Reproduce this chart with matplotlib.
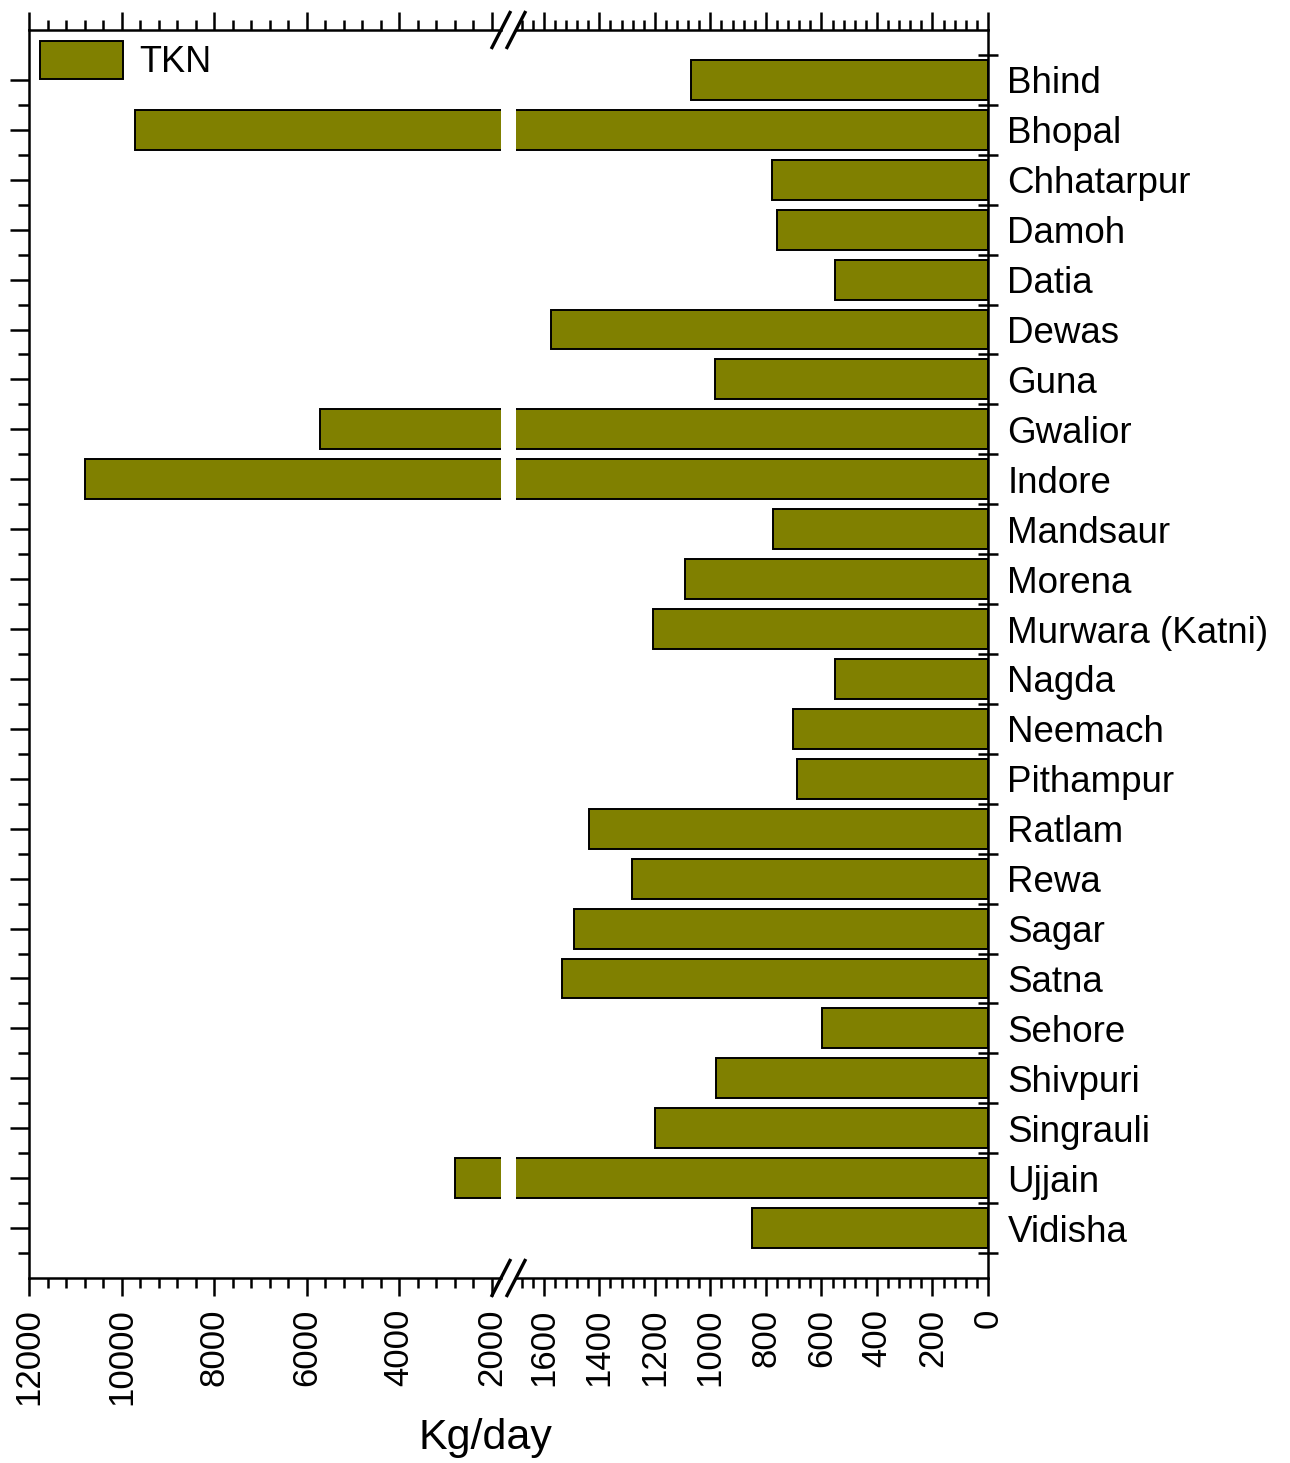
import numpy as np
import matplotlib
matplotlib.use('Agg')
import matplotlib.pyplot as plt
from matplotlib.ticker import MultipleLocator, FixedLocator

plt.rcParams['font.family'] = ['Liberation Sans', 'DejaVu Sans']

# TKN load per town (Kg/day)
towns = ['Bhind', 'Bhopal', 'Chhatarpur', 'Damoh', 'Datia', 'Dewas', 'Guna',
         'Gwalior', 'Indore', 'Mandsaur', 'Morena', 'Murwara (Katni)', 'Nagda',
         'Neemach', 'Pithampur', 'Ratlam', 'Rewa', 'Sagar', 'Satna', 'Sehore',
         'Shivpuri', 'Singrauli', 'Ujjain', 'Vidisha']
tkn = [1070, 9700, 778, 760, 550, 1575, 985,
       5720, 10790, 775, 1093, 1205, 550,
       702, 688, 1437, 1281, 1491, 1535, 597,
       981, 1198, 2800, 851]

bar_color = '#808000'
lw = 1.8

fig = plt.figure(figsize=(12.9, 14.63), dpi=100)
W, H = 1290, 1463
bottom = (H - 1278) / H
height = 1248 / H
ax1 = fig.add_axes([29 / W, bottom, 472 / W, height])
ax2 = fig.add_axes([516 / W, bottom, 472 / W, height])

pos = np.arange(len(towns))
for ax in (ax1, ax2):
    ax.barh(pos, tkn, height=0.8, color=bar_color, edgecolor='black',
            linewidth=1.4, label='TKN')
    ax.set_ylim(len(towns), -1)
    for s in ax.spines.values():
        s.set_linewidth(lw)
    ax.tick_params(axis='x', which='both', direction='out', top=True,
                   bottom=True, labeltop=False, width=lw, labelsize=25,
                   labelrotation=90, pad=9)
    ax.tick_params(axis='x', which='major', length=13)
    ax.tick_params(axis='x', which='minor', length=7)

# left part of broken axis
ax1.set_xlim(12000, 1800)
ax1.xaxis.set_major_locator(MultipleLocator(2000))
ax1.xaxis.set_minor_locator(MultipleLocator(400))
ax1.spines['right'].set_visible(False)
ax1.yaxis.set_major_locator(FixedLocator(pos))
ax1.yaxis.set_minor_locator(FixedLocator(pos + 0.5))
ax1.set_yticklabels([])
ax1.tick_params(axis='y', which='both', direction='out', width=lw,
                left=True, right=False)
ax1.tick_params(axis='y', which='major', length=14)
ax1.tick_params(axis='y', which='minor', length=8)

# right part of broken axis
ax2.set_xlim(1700, 0)
ax2.xaxis.set_major_locator(MultipleLocator(200))
ax2.xaxis.set_minor_locator(MultipleLocator(40))
ax2.xaxis.set_major_formatter(plt.FuncFormatter(lambda v, p: f'{v:.0f}'))
ax2.spines['left'].set_visible(False)
ax2.yaxis.tick_right()
ax2.set_yticks(pos)
ax2.set_yticklabels(towns, fontsize=26.5)
ax2.yaxis.set_minor_locator(FixedLocator(np.arange(-0.5, len(towns), 1.0)))
ax2.tick_params(axis='y', which='major', length=0, pad=14)
ax2.tick_params(axis='y', which='minor', direction='inout', length=14,
                width=lw, left=False, right=True)

# break marks
dx1, dy = 9 / 472, 17.5 / 1248
for ax, xc in ((ax1, 1.0), (ax2, 0.0)):
    for yc in (0.0, 1.0):
        ax.plot([xc - dx1, xc + dx1], [yc - dy, yc + dy], transform=ax.transAxes,
                color='black', linewidth=lw + 0.6, clip_on=False)

leg = ax1.legend(loc='upper left', frameon=False, fontsize=26,
                 handlelength=2.3, handleheight=1.25, handletextpad=0.45,
                 borderaxespad=0.0, borderpad=0.3)

fig.text(485 / W, 1 - 1438 / H, 'Kg/day', ha='center', va='center', fontsize=31)

fig.savefig('out.png', dpi=100, facecolor='white')
